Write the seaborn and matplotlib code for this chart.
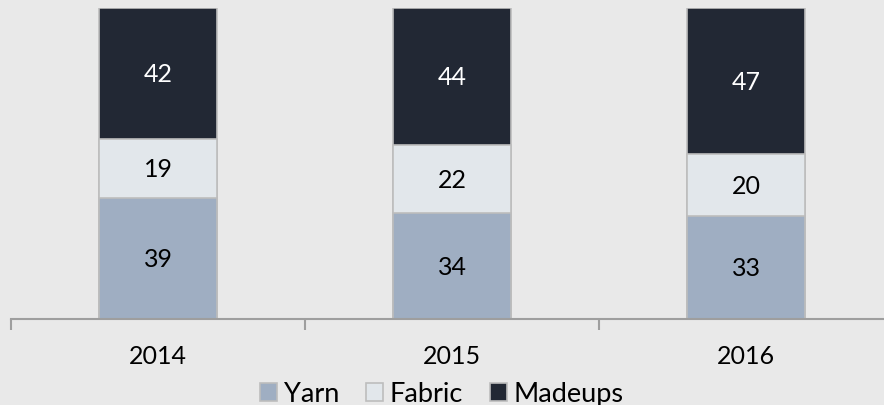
import pandas as pd
import matplotlib.pyplot as plt
import seaborn as sns
from matplotlib.patches import Patch

# Share of each segment per year (%)
years = ["2014", "2015", "2016"]
yarn = [39, 34, 33]
fabric = [19, 22, 20]
madeups = [42, 44, 47]

series_names = ["Yarn", "Fabric", "Madeups"]
colors = {"Yarn": "#9FAEC2", "Fabric": "#E2E7EB", "Madeups": "#222834"}
text_colors = {"Yarn": "black", "Fabric": "black", "Madeups": "white"}

df = pd.DataFrame({"Year": years, "Yarn": yarn, "Fabric": fabric, "Madeups": madeups})
df["yarn_top"] = df["Yarn"]
df["fabric_top"] = df["Yarn"] + df["Fabric"]
df["madeups_top"] = df["fabric_top"] + df["Madeups"]

sns.set_style("white")
plt.rcParams["font.family"] = ["Lato", "DejaVu Sans"]
plt.rcParams["text.color"] = "black"
plt.rcParams["xtick.color"] = "#9E9E9E"
plt.rcParams["xtick.labelcolor"] = "black"

fig = plt.figure(figsize=(8.84, 4.06), dpi=100)
fig.patch.set_facecolor("#E9E9E9")
ax = fig.add_axes([11 / 884, 86 / 406, 882 / 884, 311 / 406])
ax.set_facecolor("none")

# stacked bars: draw cumulative totals from tallest to shortest
for name, top in [("Madeups", "madeups_top"), ("Fabric", "fabric_top"), ("Yarn", "yarn_top")]:
    sns.barplot(data=df, x="Year", y=top, color=colors[name], width=0.4,
                edgecolor="#BDBDBD", linewidth=1.2, saturation=1, ax=ax)

# segment labels
for i in range(len(years)):
    bottom = 0
    for name in series_names:
        val = df.loc[i, name]
        ax.text(i, bottom + val / 2, str(val), ha="center", va="center",
                fontsize=18, color=text_colors[name])
        bottom += val

ax.set_xlim(-0.5, 2.5)
ax.set_ylim(0, 100)
ax.set_xlabel("")
ax.set_ylabel("")
ax.set_yticks([])
for side in ["top", "right", "left"]:
    ax.spines[side].set_visible(False)
ax.spines["bottom"].set_color("#9E9E9E")
ax.spines["bottom"].set_linewidth(1.5)

ax.set_xticks(range(len(years)))
ax.set_xticklabels(years, fontsize=18)
ax.tick_params(axis="x", which="major", bottom=True, length=0, labelbottom=True, pad=18)
ax.set_xticks([-0.5, 0.5, 1.5, 2.5], minor=True)
ax.tick_params(axis="x", which="minor", bottom=True, length=8, width=1.5, color="#9E9E9E")

handles = [Patch(facecolor=colors[n], edgecolor="#BDBDBD", linewidth=1.2, label=n) for n in series_names]
fig.legend(handles=handles, loc="center", bbox_to_anchor=(0.5, 11 / 406), ncol=3,
           frameon=False, fontsize=19.5, handlelength=0.62, handleheight=0.62,
           handletextpad=0.25, columnspacing=1.0, borderpad=0)

fig.savefig("out.png", dpi=100, facecolor=fig.get_facecolor())
